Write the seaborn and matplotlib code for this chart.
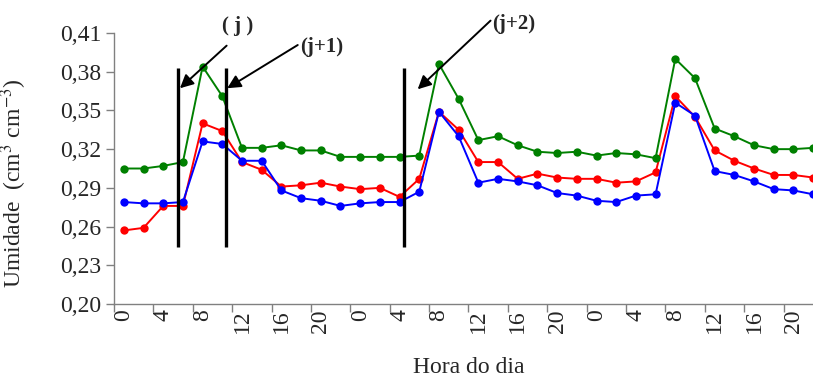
import numpy as np
import pandas as pd
import matplotlib
matplotlib.use("Agg")
import matplotlib.pyplot as plt
import seaborn as sns

# ==============================================================================
# 1. DATA (soil moisture, one point every 2 hours, 3 days)
# ==============================================================================
hour_labels = ["0", "4", "8", "12", "16", "20"] * 3

umid_verde = [0.305, 0.305, 0.307, 0.310, 0.384, 0.361, 0.321, 0.321, 0.323, 0.319, 0.319, 0.314,
              0.314, 0.314, 0.314, 0.315, 0.386, 0.359, 0.327, 0.330, 0.323, 0.318, 0.317, 0.318,
              0.315, 0.317, 0.316, 0.313, 0.390, 0.375, 0.336, 0.330, 0.323, 0.320, 0.320, 0.321]

umid_vermelho = [0.257, 0.259, 0.276, 0.276, 0.340, 0.334, 0.310, 0.304, 0.291, 0.292, 0.294, 0.291,
                 0.289, 0.290, 0.283, 0.297, 0.349, 0.335, 0.310, 0.310, 0.297, 0.301, 0.298, 0.297,
                 0.297, 0.294, 0.295, 0.302, 0.361, 0.345, 0.319, 0.311, 0.305, 0.300, 0.300, 0.298]

umid_azul = [0.279, 0.278, 0.278, 0.279, 0.326, 0.324, 0.311, 0.311, 0.288, 0.282, 0.280, 0.276,
             0.278, 0.279, 0.279, 0.287, 0.349, 0.330, 0.294, 0.297, 0.295, 0.292, 0.286, 0.284,
             0.280, 0.279, 0.284, 0.285, 0.356, 0.346, 0.303, 0.300, 0.295, 0.289, 0.288, 0.285]

n = len(umid_verde)
df = pd.DataFrame({
    "pos": list(range(n)) * 3,
    "umid": umid_vermelho + umid_azul + umid_verde,
    "serie": ["vermelho"] * n + ["azul"] * n + ["verde"] * n,
})
palette = {"vermelho": "#FF0000", "azul": "#0000FF", "verde": "#008000"}

# ==============================================================================
# 2. FIGURE
# ==============================================================================
sns.set_theme(style="white")
plt.rcParams["font.family"] = ["Liberation Serif", "DejaVu Serif"]
plt.rcParams["mathtext.fontset"] = "stix"

fig = plt.figure(figsize=(8.13, 3.79), dpi=100)
# axes run a little past the right edge, like the cropped original
ax = fig.add_axes([0.1402, 0.1979, 0.8721, 0.7150])

sns.lineplot(data=df, x="pos", y="umid", hue="serie", palette=palette, marker="o",
             markersize=6, markeredgewidth=0, linewidth=1.4, sort=False,
             legend=False, ax=ax)

# vertical markers for days j, j+1, j+2
for xv in [2.76, 5.20, 14.21]:
    ax.vlines(xv, 0.2444, 0.3831, color="black", linewidth=2.4, zorder=5)

arrow = dict(arrowstyle="-|>", color="black", lw=1.4, mutation_scale=20,
             shrinkA=0, shrinkB=0)
ax.annotate("", xy=(2.85, 0.3672), xytext=(5.22, 0.4002), arrowprops=arrow,
            annotation_clip=False)
ax.annotate("", xy=(5.25, 0.3672), xytext=(8.83, 0.4007), arrowprops=arrow,
            annotation_clip=False)
ax.annotate("", xy=(14.92, 0.3664), xytext=(18.62, 0.4196), arrowprops=arrow,
            annotation_clip=False)
ax.text(5.79, 0.4154, "( j )", fontsize=15, weight="bold", ha="center", va="center", clip_on=False)
ax.text(10.05, 0.3995, "(j+1)", fontsize=15, weight="bold", ha="center", va="center", clip_on=False)
ax.text(19.80, 0.4170, "(j+2)", fontsize=15, weight="bold", ha="center", va="center", clip_on=False)

# ==============================================================================
# 3. AXES STYLING (Excel-like category axis)
# ==============================================================================
ax.set_xlim(-0.5, n - 0.5)
ax.set_ylim(0.20, 0.41)

yt = np.round(np.arange(0.20, 0.4101, 0.03), 2)
ax.set_yticks(yt)
ax.set_yticklabels([f"{v:.2f}".replace(".", ",") for v in yt], fontsize=17)

ax.set_xticks(np.arange(-0.5, n, 2))
ax.set_xticklabels([])
ax.set_xticks(np.arange(0, n, 2), minor=True)
ax.set_xticklabels(hour_labels, minor=True, rotation=90, fontsize=17)
ax.tick_params(axis="x", which="major", direction="out", length=6, width=1, color="#808080")
ax.tick_params(axis="x", which="minor", length=0, pad=4)
ax.tick_params(axis="y", direction="out", length=6, width=1, color="#808080", pad=3)
ax.tick_params(axis="both", which="both", bottom=True, left=True)

for side in ["top", "right"]:
    ax.spines[side].set_visible(False)
for side in ["left", "bottom"]:
    ax.spines[side].set_color("#808080")
    ax.spines[side].set_linewidth(1.0)

ax.set_xlabel("Hora do dia", fontsize=17)
ax.set_ylabel(r"Umidade  (cm$^{\mathrm{3}}$ cm$^{\mathrm{-3}}$)", fontsize=17)
ax.yaxis.set_label_coords(-0.12, 0.446)
ax.xaxis.set_label_coords(0.5, -0.195)

fig.savefig("out.png", dpi=100, facecolor="white")
